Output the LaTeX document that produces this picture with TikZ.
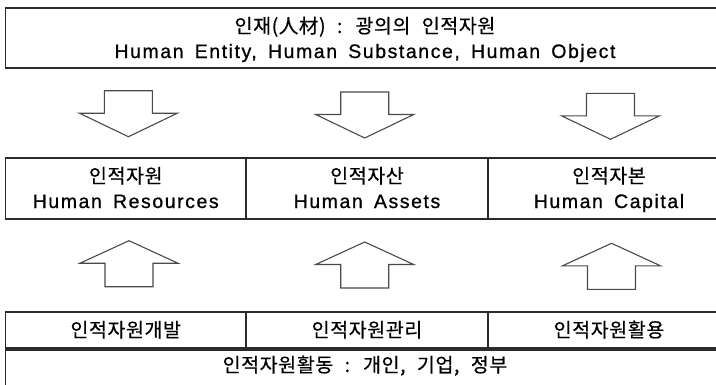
\documentclass[tikz,border=0pt]{standalone}
\usepackage{fontspec}
\newfontfamily\krfamily{Noto Sans CJK KR}[FakeBold=0.5,LetterSpace=3,WordSpace=2.3]
\newfontfamily\latfamily{Liberation Sans}[FakeBold=0.8,LetterSpace=8,WordSpace=1.6]
\newcommand\krtext{\krfamily\fontsize{19.5pt}{22pt}\selectfont}
\newcommand\lattext{\latfamily\fontsize{19.5pt}{22pt}\selectfont}
\definecolor{boxline}{HTML}{2B2B2B}
\definecolor{arrowline}{HTML}{4A4A4A}

\tikzset{
  cell/.style={draw=boxline, line width=1.2pt, rectangle, inner sep=0pt, fill=white},
  txt/.style={anchor=base, inner sep=0pt, text=black},
  blockarrow/.style={draw=arrowline, line width=1.1pt, fill=white, line join=miter},
  down block/.pic={\path[blockarrow] (-24,0) -- (24,0) -- (24,22.5) -- (49,22.5)
      -- (0,46) -- (-49,22.5) -- (-24,22.5) -- cycle;},
  up block/.pic={\path[blockarrow] (0,0) -- (49,22.5) -- (24,22.5) -- (24,46)
      -- (-24,46) -- (-24,22.5) -- (-49,22.5) -- cycle;},
}

\begin{document}
\begin{tikzpicture}[x=1pt,y=-1pt]
  \useasboundingbox (0,0) rectangle (716,384);
  \clip (0,0) rectangle (716,384);

  % top: broad concept
  \node[cell, minimum width=724.5pt, minimum height=60pt] (top) at (367.75,38) {};
  \node[txt] (topkr) at (365,33) {\krtext 인재(人材) : 광의의 인적자원};
  \node[txt] (topen) at (365,58) {\lattext Human Entity, Human Substance, Human Object};

  % downward block arrows
  \pic at (128.4,90.7) {down block};
  \pic at (364.7,92) {down block};
  \pic at (610.5,93.3) {down block};

  % middle row: three views
  \node[cell, minimum width=240.5pt, minimum height=61pt] (hr) at (125.75,188.5) {};
  \node[cell, minimum width=242pt, minimum height=61pt] (ha) at (367,188.5) {};
  \node[cell, minimum width=242pt, minimum height=61pt] (hc) at (609,188.5) {};
  \node[txt] (hrkr) at (125.75,183) {\krtext 인적자원};
  \node[txt] (hren) at (125.75,208) {\lattext Human Resources};
  \node[txt] (hakr) at (367,183) {\krtext 인적자산};
  \node[txt] (haen) at (367,208) {\lattext Human Assets};
  \node[txt] (hckr) at (609,183) {\krtext 인적자본};
  \node[txt] (hcen) at (609,208) {\lattext Human Capital};

  % upward block arrows
  \pic at (129,240.7) {up block};
  \pic at (364.7,242) {up block};
  \pic at (611.5,243.3) {up block};

  % bottom rows: activities
  \node[cell, minimum width=240.5pt, minimum height=36pt] (dev) at (125.75,330) {};
  \node[cell, minimum width=242pt, minimum height=36pt] (mgt) at (367,330) {};
  \node[cell, minimum width=242pt, minimum height=36pt] (use) at (609,330) {};
  \node[txt] (devt) at (125.75,337) {\krtext 인적자원개발};
  \node[txt] (mgtt) at (367,337) {\krtext 인적자원관리};
  \node[txt] (uset) at (609,337) {\krtext 인적자원활용};

  \node[cell, minimum width=724.5pt, minimum height=60pt] (act) at (367.75,380) {};
  \node[txt] (actt) at (365,372) {\krtext 인적자원활동 : 개인, 기업, 정부};
\end{tikzpicture}
\end{document}
